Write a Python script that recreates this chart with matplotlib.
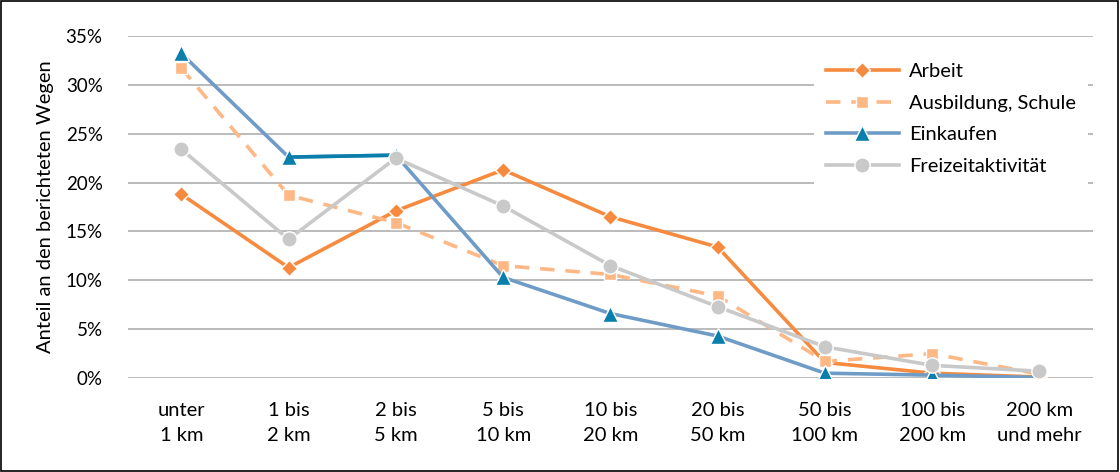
import matplotlib.pyplot as plt
import numpy as np

plt.rcParams['font.family'] = ['Lato', 'DejaVu Sans']

categories = ["unter\n1 km", "1 bis\n2 km", "2 bis\n5 km", "5 bis\n10 km", "10 bis\n20 km",
              "20 bis\n50 km", "50 bis\n100 km", "100 bis\n200 km", "200 km\nund mehr"]
arbeit = [18.8, 11.3, 17.1, 21.3, 16.5, 13.4, 1.6, 0.5, 0.1]
ausbildung = [31.7, 18.7, 15.9, 11.5, 10.6, 8.4, 1.7, 2.5, 0.4]
einkaufen = [33.2, 22.6, 22.8, 10.3, 6.6, 4.3, 0.5, 0.3, 0.05]
freizeit = [23.4, 14.2, 22.5, 17.6, 11.5, 7.3, 3.2, 1.3, 0.7]
yticks = [0, 5, 10, 15, 20, 25, 30, 35]

fig = plt.figure(figsize=(11.2, 4.72), dpi=100)
ax = fig.add_axes([0.114, 0.199, 0.862, 0.725])
x = np.arange(len(categories))

ax.plot(x, arbeit, color='#f68b3f', lw=2.6, marker='D', ms=8, mfc='#f68b3f',
        mec='white', mew=1, label='Arbeit', zorder=3)
ax.plot(x, ausbildung, color='#fdb885', lw=2.6, ls=(0, (4, 3)), marker='s', ms=9,
        mfc='#fdb885', mec='white', mew=1, label='Ausbildung, Schule', zorder=3)
ax.plot(x, einkaufen, color='#6f9cc6', lw=2.6, marker='^', ms=11, mfc='#0a7fab',
        mec='white', mew=1, label='Einkaufen', zorder=3)
ax.plot(x[1:3], einkaufen[1:3], color='#0a7fab', lw=2.6, zorder=3)
ax.plot(x, freizeit, color='#c9c9c9', lw=2.6, marker='o', ms=11, mfc='#c9c9c9',
        mec='white', mew=1, label='Freizeitaktivität', zorder=3)

ax.set_xlim(-0.5, len(categories) - 0.5)
ax.set_ylim(0, 35)
ax.set_yticks(yticks)
ax.set_yticklabels([f"{t}%" for t in yticks], fontsize=13.5)
ax.set_xticks(x)
ax.set_xticklabels(categories, fontsize=14.5, linespacing=1.6)
ax.tick_params(length=0)
ax.tick_params(axis='y', pad=18)
ax.tick_params(axis='x', pad=17)
ax.grid(axis='y', color='#b5b5b5', lw=1.3)
ax.set_axisbelow(True)
for s in ax.spines.values():
    s.set_visible(False)
ax.set_ylabel("Anteil an den berichteten Wegen", fontsize=14.5, labelpad=8)

leg = ax.legend(loc='upper right', bbox_to_anchor=(1.005, 0.985), frameon=True, fontsize=14.5,
                handlelength=3.6, labelspacing=0.72, borderpad=0.6, handletextpad=0.5)
leg.get_frame().set_edgecolor('none')
leg.get_frame().set_facecolor('white')
leg.get_frame().set_alpha(1)

fig.patches.append(plt.Rectangle((0.001, 0.002), 0.997, 0.995, transform=fig.transFigure,
                                 fill=False, edgecolor='black', lw=1.2))
fig.savefig("out.png", dpi=100)
